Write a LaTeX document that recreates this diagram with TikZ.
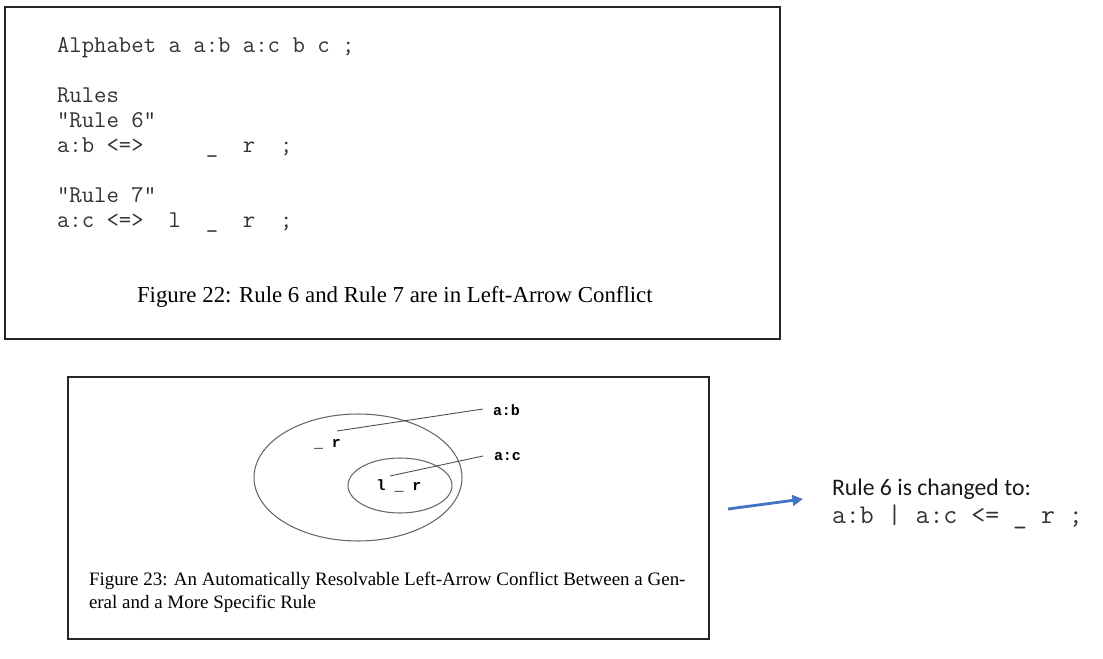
\documentclass[tikz,border=0pt]{standalone}
\usepackage{fontspec}
\setmainfont{Liberation Serif}
\newfontfamily\labelfont{Liberation Mono}
\newfontfamily\notefont{Carlito}
\usetikzlibrary{shapes.geometric, arrows.meta, positioning}

\definecolor{arrowblue}{RGB}{68,114,196}

\begin{document}
\begin{tikzpicture}[x=0.02cm, y=-0.02cm,
        every node/.style={inner sep=0pt, outer sep=0pt},
        frame/.style={draw=black!85, line width=1.1pt},
        code/.style={anchor=base west, text=black!80, font=\ttfamily\fontsize{13.7}{16}\selectfont},
        caption/.style={anchor=base west, font=\fontsize{13}{15}\selectfont},
        smallcap/.style={anchor=base west, font=\fontsize{10.8}{13}\selectfont},
        set/.style={ellipse, draw=black!60, line width=0.6pt},
        lbl/.style={anchor=base, font=\labelfont\bfseries\fontsize{8.5}{10}\selectfont},
        pointer/.style={draw=black!70, line width=0.5pt},
        note/.style={anchor=base west, text=black!90, font=\notefont\fontsize{13.5}{16}\selectfont},
        newrule/.style={anchor=base west, text=black!80, font=\ttfamily\fontsize{15.4}{18}\selectfont},
        arrow/.style={-{Triangle[length=6pt, width=6pt]}, draw=arrowblue, line width=1.6pt}
    ]
        \useasboundingbox (0,0) rectangle (1103,659);

        % Figure 22
        \draw[frame] (5,7) rectangle (780,339);
        \node[code] (alpha) at (57,52) {Alphabet a a:b a:c b c ;};
        \node[code] (rules) at (57,102) {Rules};
        \node[code] (r6name) at (57,127) {"Rule 6"};
        \node[code] (r6) at (57,152) {a:b <=>~~~~~\_~~r~~;};
        \node[code] (r7name) at (57,202) {"Rule 7"};
        \node[code] (r7) at (57,227) {a:c <=>~~l~~\_~~r~~;};
        \node[caption] (cap22) at (137,302) {Figure 22: Rule 6 and Rule 7 are in Left-Arrow Conflict};

        % Figure 23
        \draw[frame, line width=0.9pt] (68,377) rectangle (709,639);
        \node[set, minimum width=4.16cm, minimum height=2.54cm] (general) at (358,477.5) {};
        \node[set, minimum width=2.08cm, minimum height=1.1cm] (specific) at (400,485.5) {};
        \node[lbl] (gen) at (327.5,447) {\_ r};
        \node[lbl] (spec) at (399,490) {l \_ r};
        \node[lbl, anchor=base west] (ab) at (493,415) {a:b};
        \node[lbl, anchor=base west] (ac) at (494,460) {a:c};
        \coordinate (genp) at (337,431);
        \coordinate (abp) at (483,409);
        \coordinate (specp) at (390,476);
        \coordinate (acp) at (483,456);
        \draw[pointer] (genp) -- (abp);
        \draw[pointer] (specp) -- (acp);
        \node[smallcap] (cap23a) at (89,585) {Figure 23: An Automatically Resolvable Left-Arrow Conflict Between a Gen-};
        \node[smallcap] (cap23b) at (89,608) {eral and a More Specific Rule};

        % Change
        \coordinate (arrS) at (728,509);
        \coordinate (arrE) at (803,499);
        \draw[arrow] (arrS) -- (arrE);
        \node[note] (chg) at (832,495) {Rule 6 is changed to:};
        \node[newrule] (nr) at (832,523) {a:b | a:c <= \_ r ;};

    \end{tikzpicture}
\end{document}
